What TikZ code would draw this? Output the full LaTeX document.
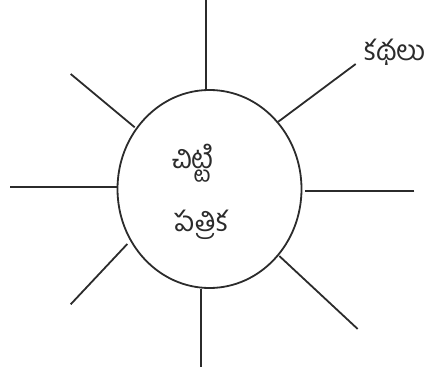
\documentclass[tikz,border=0pt]{standalone}
\usepackage{fontspec}
\usetikzlibrary{shapes.geometric}
\newfontfamily\telugu[Script=Telugu]{Hind Guntur}
\definecolor{ink}{HTML}{2B2B2B}
\begin{document}
\begin{tikzpicture}[x=1pt,y=-1pt,
  ray/.style={draw=ink,line width=1.8pt},
  lbl/.style={font=\telugu\fontsize{28}{32}\selectfont,text=ink,inner sep=0pt}]
\useasboundingbox (0,0) rectangle (433,374);
\node[ellipse,draw=ink,line width=1.8pt,minimum width=184pt,minimum height=198pt,inner sep=0pt] (hub) at (209.5,189) {};
\node[lbl] (t1) at (193,163) {చిట్టి};
\node[lbl] (t2) at (201.7,225) {పత్రిక};
\node[lbl] (t3) at (395,52) {కథలు};
% ray end points
\coordinate (a1) at (205.7,0);    \coordinate (b1) at (205.7,90.7);
\coordinate (a2) at (355.7,64);   \coordinate (b2) at (278.3,121.7);
\coordinate (a3) at (70.7,74);    \coordinate (b3) at (134.7,127.3);
\coordinate (a4) at (10,187.3);   \coordinate (b4) at (116.5,187.3);
\coordinate (a5) at (414.3,191);  \coordinate (b5) at (305,191);
\coordinate (a6) at (70.7,304.3); \coordinate (b6) at (127.3,244);
\coordinate (a7) at (357.7,329);  \coordinate (b7) at (279.3,256);
\coordinate (a8) at (201.3,366.7);\coordinate (b8) at (201.3,289.3);
\foreach \i in {1,...,8} {\draw[ray] (a\i) -- (b\i);}
\end{tikzpicture}
\end{document}
